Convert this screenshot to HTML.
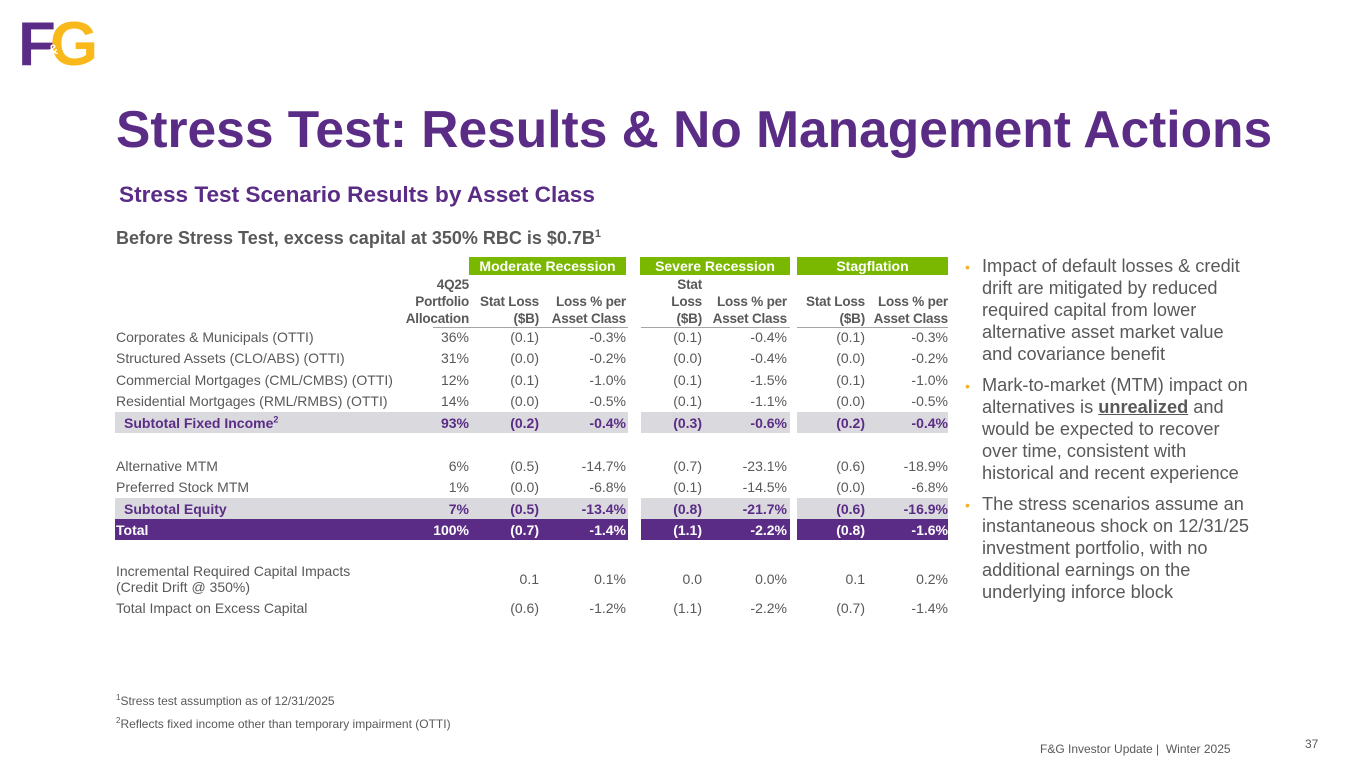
<!DOCTYPE html>
<html><head><meta charset="utf-8"><style>
body{margin:0;width:1365px;height:768px;position:relative;overflow:hidden;background:#fff;font-family:"Liberation Sans",sans-serif;color:#595959}
.a{position:absolute;white-space:nowrap}
.c{position:absolute;font-size:14px;line-height:16px;white-space:nowrap}
.r{text-align:right}
.hb{position:absolute;background:#7ab800;color:#fff;font-weight:bold;font-size:14px;line-height:18px;text-align:center}
.band{position:absolute}
.bul{position:absolute;left:965px;width:300px;font-size:18.2px;line-height:22px;color:#595959}
.bul span.d{position:absolute;left:0;top:1px;color:#f5b324;font-size:14px}
.bul div.t{margin-left:17px;width:276px}
</style></head><body>
<div class="a" style="left:18px;top:14px;height:60px;font-weight:bold;font-size:62px;line-height:62px;letter-spacing:-6px">
<span style="color:#5b2c86">F</span><span style="color:#f9b91b">G</span>
<span style="position:absolute;left:30px;top:28px;font-size:14px;line-height:14px;color:#fff;letter-spacing:0">&amp;</span>
</div>
<div class="a" style="left:116px;top:99px;font-size:51.5px;font-weight:bold;color:#5b2c86">Stress Test: Results &amp; No Management Actions</div>
<div class="a" style="left:119px;top:182px;font-size:22.6px;font-weight:bold;color:#5b2c86">Stress Test Scenario Results by Asset Class</div>
<div class="a" style="left:116px;top:228px;font-size:18px;font-weight:bold;color:#595959">Before Stress Test, excess capital at 350% RBC is $0.7B<sup style="font-size:11px">1</sup></div>

<div class="hb" style="left:469px;top:257px;width:157px">Moderate Recession</div>
<div class="hb" style="left:640px;top:257px;width:150px">Severe Recession</div>
<div class="hb" style="left:797px;top:257px;width:151px">Stagflation</div>
<div id="tbl"></div>

<div class="a" style="left:116px;top:693px;font-size:12px"><sup style="font-size:8px">1</sup>Stress test assumption as of 12/31/2025</div>
<div class="a" style="left:116px;top:716px;font-size:12px"><sup style="font-size:8px">2</sup>Reflects fixed income other than temporary impairment (OTTI)</div>
<div class="a" style="left:1040px;top:742px;font-size:12px">F&amp;G Investor Update |&nbsp; Winter 2025</div>
<div class="a" style="left:1305px;top:737px;font-size:12px">37</div>

<div class="bul" style="top:255px"><span class="d">•</span><div class="t">Impact of default losses &amp; credit drift are mitigated by reduced required capital from lower alternative asset market value and covariance benefit</div></div>
<div class="bul" style="top:374px"><span class="d">•</span><div class="t">Mark-to-market (MTM) impact on alternatives is <b><u>unrealized</u></b> and would be expected to recover over time, consistent with historical and recent experience</div></div>
<div class="bul" style="top:493px"><span class="d">•</span><div class="t">The stress scenarios assume an instantaneous shock on 12/31/25 investment portfolio, with no additional earnings on the underlying inforce block</div></div>

<script>
const rowLabels=["Corporates & Municipals (OTTI)","Structured Assets (CLO/ABS) (OTTI)","Commercial Mortgages (CML/CMBS) (OTTI)","Residential Mortgages (RML/RMBS) (OTTI)","Subtotal Fixed Income","Alternative MTM","Preferred Stock MTM","Subtotal Equity","Total","Incremental Required Capital Impacts|(Credit Drift @ 350%)","Total Impact on Excess Capital"];
const rowValues=[
["36%","(0.1)","-0.3%","(0.1)","-0.4%","(0.1)","-0.3%"],
["31%","(0.0)","-0.2%","(0.0)","-0.4%","(0.0)","-0.2%"],
["12%","(0.1)","-1.0%","(0.1)","-1.5%","(0.1)","-1.0%"],
["14%","(0.0)","-0.5%","(0.1)","-1.1%","(0.0)","-0.5%"],
["93%","(0.2)","-0.4%","(0.3)","-0.6%","(0.2)","-0.4%"],
["6%","(0.5)","-14.7%","(0.7)","-23.1%","(0.6)","-18.9%"],
["1%","(0.0)","-6.8%","(0.1)","-14.5%","(0.0)","-6.8%"],
["7%","(0.5)","-13.4%","(0.8)","-21.7%","(0.6)","-16.9%"],
["100%","(0.7)","-1.4%","(1.1)","-2.2%","(0.8)","-1.6%"],
["","0.1","0.1%","0.0","0.0%","0.1","0.2%"],
["","(0.6)","-1.2%","(1.1)","-2.2%","(0.7)","-1.4%"]];
const rowTypes=["n","n","n","n","sub","n","n","sub","tot","n","n"];
const rowY=[329,350,372,393,415,458,479,501,522,571,600];
const colRight=[469,539,626,702,787,865,948];
const headers=[["4Q25","Portfolio","Allocation"],["","Stat Loss","($B)"],["","Loss % per","Asset Class"],["Stat","Loss","($B)"],["","Loss % per","Asset Class"],["","Stat Loss","($B)"],["","Loss % per","Asset Class"]];
const tbl=document.getElementById('tbl');
const segs=[[115,628],[641,790],[797,948]];
function add(cls,style,html){const d=document.createElement('div');d.className=cls;d.style.cssText=style;d.innerHTML=html;tbl.appendChild(d);return d;}
headers.forEach((h,i)=>{h.forEach((t,j)=>{const d=add('c r','right:'+(1365-colRight[i])+'px;top:'+(277+j*17)+'px;font-weight:bold;font-size:13.5px;letter-spacing:-0.2px',t);

});});
[[433,469],[469,628],[641,790],[797,948]].forEach(s=>{const d=add('band','left:'+s[0]+'px;width:'+(s[1]-s[0])+'px;top:327px;height:1px;background:#a6a6a6','');

});
rowLabels.forEach((lab,i)=>{
 const t=rowTypes[i];const y=rowY[i];
 if(t!=='n'){segs.forEach(s=>{const b=add('band','left:'+s[0]+'px;width:'+(s[1]-s[0])+'px;top:'+(y-3)+'px;height:21px;background:'+(t==='sub'?'#d9d9de':'#5b2c86'),'');
 
 });}
 const col=t==='sub'?'#5b2c86':(t==='tot'?'#fff':'#595959');
 const fw=t==='n'?'normal':'bold';
 let txt=lab.replace('&','&amp;').split('|').join('<br>');
 if(lab==='Subtotal Fixed Income')txt+='<sup style="font-size:9px;line-height:0">2</sup>';
 const l=add('c','left:'+(t==='sub'?124:116)+'px;top:'+(lab.includes('|')?y-8:y)+'px;color:'+col+';font-weight:'+fw,txt);
 
 
 rowValues[i].forEach((v,k)=>{const c=add('c r','right:'+(1365-colRight[k])+'px;top:'+y+'px;color:'+col+';font-weight:'+fw,v);
 
 });
});
</script>
</body></html>
